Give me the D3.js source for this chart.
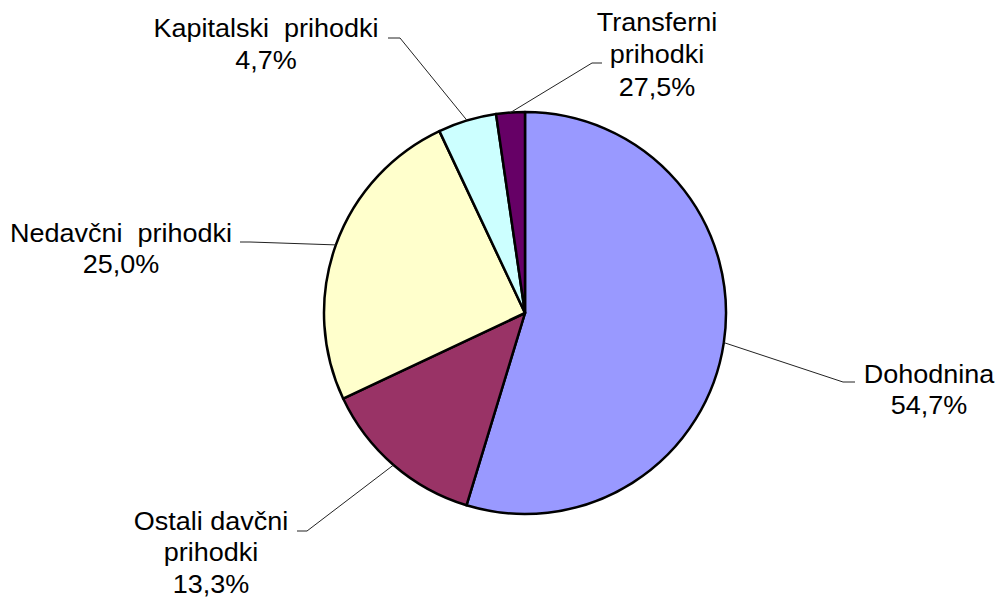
<!DOCTYPE html>
<html>
<head>
<meta charset="utf-8">
<script src="https://cdn.jsdelivr.net/npm/d3@7"></script>
<style>
html,body{margin:0;padding:0;background:#fff;}
svg{display:block;}
text{font-family:"Liberation Sans",Arial,sans-serif;font-size:25px;fill:#000;}
</style>
</head>
<body>
<svg id="chart" width="997" height="601"></svg>
<script>
// Data
const categories = ["Dohodnina", "Ostali davčni prihodki", "Nedavčni prihodki", "Kapitalski prihodki", "Transferni prihodki"];
const values = [54.7, 13.3, 25.0, 4.7, 2.3];
const nameLines = [["Dohodnina"], ["Ostali davčni", "prihodki"], ["Nedavčni  prihodki"], ["Kapitalski  prihodki"], ["Transferni", "prihodki"]];
const percentLabels = ["54,7%", "13,3%", "25,0%", "4,7%", "27,5%"];
const colors = ["#9999FF", "#993366", "#FFFFCC", "#CCFFFF", "#660066"];

// Layout
const cx = 525, cy = 313, R = 201;
const labelLayout = [
  {elbow:[843,382], end:[855,382], x:929, y:383, lh:31},
  {elbow:[307,531], end:[297,531], x:211, y:530, lh:31.5},
  {elbow:[250,242], end:[240,242], x:121, y:242, lh:31.5},
  {elbow:[400,38],  end:[388,38],  x:266, y:37,  lh:32.5},
  {elbow:[592,63],  end:[602,63],  x:657, y:31,  lh:32.5}
];

const svg = d3.select("#chart");
const data = categories.map((c,i)=>({name:c, value:values[i], i}));
const pie = d3.pie().sort(null).value(d=>d.value).startAngle(0).endAngle(2*Math.PI);
const arcs = pie(data);
const arc = d3.arc().innerRadius(0).outerRadius(R);
const color = d3.scaleOrdinal().domain(categories).range(colors);

const g = svg.append("g").attr("transform", `translate(${cx},${cy})`);
g.selectAll("path").data(arcs).enter().append("path")
  .attr("d", arc)
  .attr("fill", d=>color(d.data.name))
  .attr("stroke", "#000")
  .attr("stroke-width", 2.5)
  .attr("stroke-linejoin", "round");

// leader lines and labels
arcs.forEach((a,i)=>{
  const mid = (a.startAngle + a.endAngle)/2;
  const px = cx + R*Math.sin(mid), py = cy - R*Math.cos(mid);
  const L = labelLayout[i];
  svg.append("polyline")
    .attr("points", [[px,py], L.elbow, L.end].map(p=>p.join(",")).join(" "))
    .attr("fill","none").attr("stroke","#222").attr("stroke-width",1);
  const lines = nameLines[i].concat([percentLabels[i]]);
  const tg = svg.append("g").attr("transform", `translate(${L.x},${L.y}) scale(1.08,1)`);
  lines.forEach((t,k)=>{
    tg.append("text").attr("x",0).attr("y",k*L.lh)
      .attr("text-anchor","middle").attr("xml:space","preserve").style("white-space","pre").text(t);
  });
});
</script>
</body>
</html>
